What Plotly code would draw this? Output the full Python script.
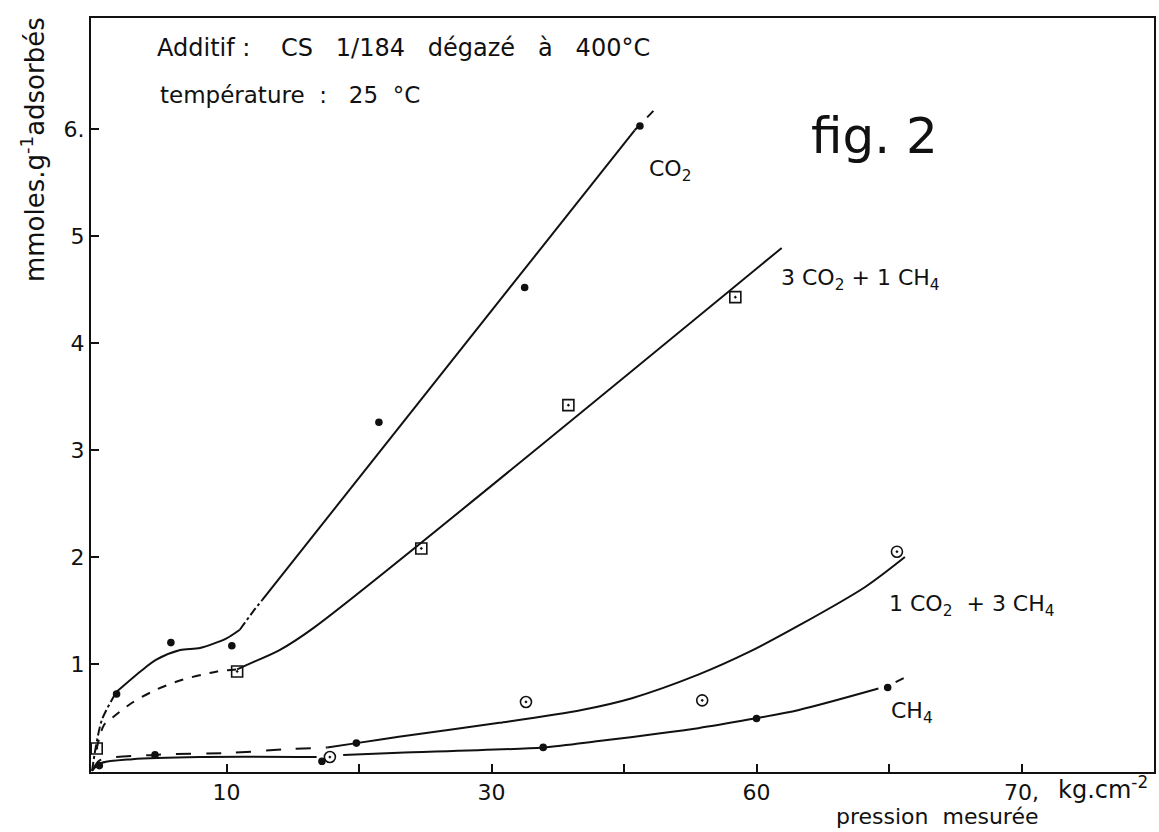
import plotly.graph_objects as go

# ---- data: adsorption isotherms at 25 °C (x in plot pressure units, y in mmol/g) ----
# CO2
co2_pts_x = [1.7, 5.8, 10.4, 21.5, 32.5, 41.2]
co2_pts_y = [0.72, 1.20, 1.17, 3.26, 4.52, 6.03]
co2_start_x = [-0.15, 0.1, 0.6, 1.7]
co2_start_y = [0.0, 0.2, 0.48, 0.74]
co2_knee_x = [1.7, 3.5, 4.7, 6.5, 8.0, 10.0, 11.0]
co2_knee_y = [0.74, 0.93, 1.04, 1.13, 1.15, 1.24, 1.32]
co2_bend_x = [11.0, 12.0, 12.7]
co2_bend_y = [1.32, 1.49, 1.60]
co2_line_x = [12.7, 40.8]
co2_line_y = [1.60, 5.99]
co2_tail_x = [40.8, 42.6]
co2_tail_y = [5.99, 6.22]

# 3 CO2 + 1 CH4
m31_pts_x = [0.2, 10.8, 24.7, 35.8, 48.4]
m31_pts_y = [0.21, 0.93, 2.08, 3.42, 4.43]
m31_dash_x = [0.2, 0.75, 1.4, 2.9, 4.7, 6.6, 9.3, 10.8]
m31_dash_y = [0.21, 0.43, 0.50, 0.64, 0.76, 0.85, 0.93, 0.95]
m31_line_x = [10.8, 11.5, 14.0, 16.6, 51.9]
m31_line_y = [0.95, 0.99, 1.13, 1.34, 4.89]

# 1 CO2 + 3 CH4
m13_pts_x = [17.8, 32.6, 45.9, 60.6]
m13_pts_y = [0.13, 0.645, 0.66, 2.05]
m13_dash_x = [-0.15, 0.45, 4.6, 10.5, 14.2, 17.6]
m13_dash_y = [0.0, 0.10, 0.15, 0.17, 0.20, 0.22]
m13_line_x = [17.6, 19.8, 23.0, 30.6, 36.8, 40.6, 45.6, 49.4, 53.2, 58.2, 61.2]
m13_line_y = [0.22, 0.26, 0.32, 0.45, 0.57, 0.68, 0.90, 1.11, 1.36, 1.72, 2.00]

# CH4
ch4_pts_x = [0.4, 4.6, 17.2, 19.8, 33.9, 50.0, 59.9]
ch4_pts_y = [0.05, 0.15, 0.09, 0.26, 0.22, 0.49, 0.78]
ch4_a_x = [-0.15, 0.45, 2.9, 8.0, 16.8]
ch4_a_y = [0.0, 0.07, 0.11, 0.13, 0.13]
ch4_b_x = [18.8, 23.0, 33.9, 38.1, 45.6, 49.4, 53.2, 59.2]
ch4_b_y = [0.15, 0.17, 0.22, 0.28, 0.40, 0.48, 0.57, 0.77]
ch4_tail_x = [60.5, 61.3]
ch4_tail_y = [0.83, 0.88]

# axis ticks
x_tick_vals = [10, 20, 30, 40, 50, 60, 70]
x_tick_text = ["10", "", "30", "", "60", "", "70,"]
y_tick_vals = [1, 2, 3, 4, 5, 6]
y_tick_text = ["1", "2", "3", "4", "5", "6."]

FONT = "DejaVu Sans"
INK = "#111111"
SP = "\u00a0"

fig = go.Figure()


def curve(x, y, dash="solid", width=2.0):
    fig.add_trace(go.Scatter(x=x, y=y, mode="lines",
                             line=dict(color=INK, width=width, dash=dash, shape="spline", smoothing=0.8),
                             hoverinfo="skip", showlegend=False))


def points(x, y, symbol, size):
    fig.add_trace(go.Scatter(x=x, y=y, mode="markers",
                             marker=dict(symbol=symbol, size=size, color=INK, line=dict(color=INK, width=1.6)),
                             showlegend=False))


# CO2
curve(co2_start_x, co2_start_y, "dashdot")
curve(co2_knee_x, co2_knee_y)
curve(co2_bend_x, co2_bend_y, "dashdot")
curve(co2_line_x, co2_line_y)
curve(co2_tail_x, co2_tail_y, "dash")
points(co2_pts_x, co2_pts_y, "circle", 6)

# 3 CO2 + 1 CH4
curve(m31_dash_x, m31_dash_y, "dash")
curve(m31_line_x, m31_line_y)
points(m31_pts_x, m31_pts_y, "square-open-dot", 11)

# 1 CO2 + 3 CH4
curve(m13_dash_x, m13_dash_y, "longdash")
curve(m13_line_x, m13_line_y)
points(m13_pts_x, m13_pts_y, "circle-open-dot", 11)

# CH4
curve(ch4_a_x, ch4_a_y)
curve(ch4_b_x, ch4_b_y)
curve(ch4_tail_x, ch4_tail_y, "dash")
points(ch4_pts_x, ch4_pts_y, "circle", 6)

# ---- layout ----
L, R, T, B = 91, 1156, 18, 772
W, H = 1159, 832


def px(xp):
    return (xp - L) / (R - L)


def py(yp):
    return (B - yp) / (B - T)


def label(text, x, y, size, xanchor="left", yanchor="middle", angle=0):
    fig.add_annotation(text=text, x=px(x), y=py(y), xref="paper", yref="paper",
                       xanchor=xanchor, yanchor=yanchor, showarrow=False, textangle=angle,
                       font=dict(family=FONT, size=size, color=INK))


def spaced(*words, gap=3):
    return (SP * gap).join(words)


label("Additif" + SP + ":" + SP * 4 + spaced("CS", "1/184", "dégazé", "à", "400°C"), 155, 48, 24)
label("température" + SP * 2 + ":" + SP * 3 + "25" + SP * 2 + "°C", 158, 95, 23)
label("fig. 2", 810, 136, 50)
label("CO<sub>2</sub>", 648, 170, 22)
label("3 CO<sub>2</sub> + 1 CH<sub>4</sub>", 780, 280, 22)
label("1 CO<sub>2</sub>" + SP * 2 + "+ 3 CH<sub>4</sub>", 888, 605, 22)
label("CH<sub>4</sub>", 891, 712, 22)
label("kg.cm<sup>-2</sup>", 1058, 788, 24)
label("pression" + SP * 2 + "mesurée", 835, 831, 22, yanchor="bottom")
label("mmoles.g<sup>-1</sup>adsorbés", 33, 150, 26, xanchor="center", angle=-90)

axis_common = dict(showgrid=False, zeroline=False, showline=True, linecolor=INK, linewidth=2,
                   mirror=True, ticks="inside", ticklen=8, tickwidth=2, tickcolor=INK,
                   tickfont=dict(family=FONT, size=22, color=INK))

fig.update_xaxes(range=[-0.23, 80.0], tickmode="array", tickvals=x_tick_vals, ticktext=x_tick_text, **axis_common)
fig.update_yaxes(range=[-0.01, 7.04], tickmode="array", tickvals=y_tick_vals, ticktext=y_tick_text, **axis_common)

fig.update_layout(width=W, height=H, margin=dict(l=L, r=W - R, t=T, b=H - B),
                  paper_bgcolor="white", plot_bgcolor="white", showlegend=False,
                  font=dict(family=FONT, color=INK))

fig.write_html("out.html")
